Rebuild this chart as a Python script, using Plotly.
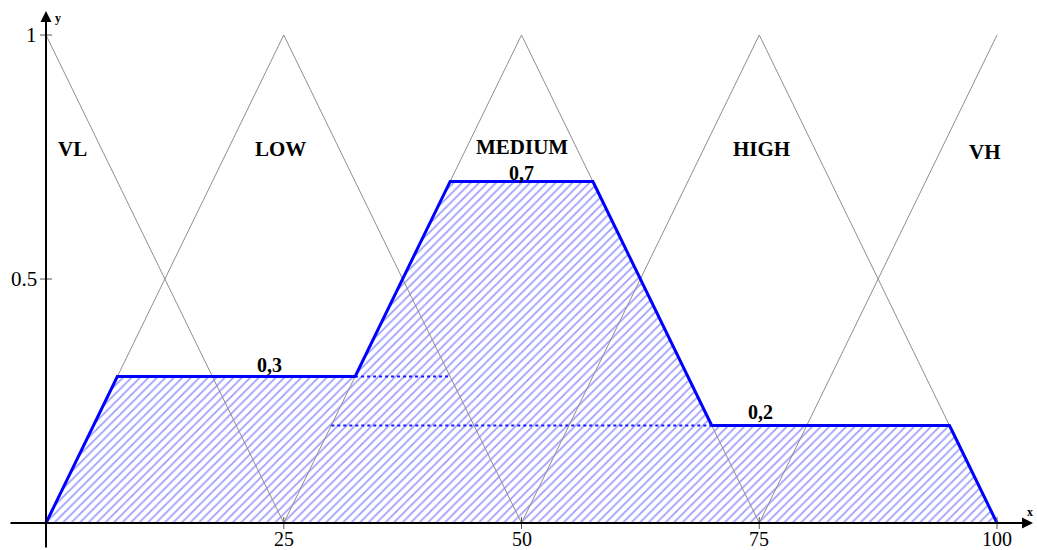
import numpy as np
import plotly.graph_objects as go

# Fuzzy sets on the universe 0..100 (triangular membership functions)
set_names = ["VL", "LOW", "MEDIUM", "HIGH", "VH"]
set_left = [-25, 0, 25, 50, 75]
set_peak = [0, 25, 50, 75, 100]
set_right = [25, 50, 75, 100, 125]
# Firing strengths (clip levels) of each set
clip_levels = [0.0, 0.3, 0.7, 0.2, 0.0]
clip_labels = ["", "0,3", "0,7", "0,2", ""]
# Dotted guide lines: level, start x, end x
guide_level = [0.3, 0.2]
guide_from = [32.5, 30.0]
guide_to = [42.5, 70.0]
# Axis ticks
x_ticks = [25, 50, 75, 100]
y_ticks = [0.5, 1]
y_tick_text = ["0.5", "1"]

# Pixel geometry of the drawing (origin at 46,523; x 9.51 px/unit; y 488 px/unit)
W, H = 1037, 550
X0, Y0, SX, SY = 46.0, 523.0, 9.51, 488.0
x_range = [-X0 / SX, (W - X0) / SX]
y_range = [-(H - Y0) / SY, Y0 / SY]


def tri(x, a, b, c):
    up = (x - a) / (b - a)
    down = (c - x) / (c - b)
    return np.clip(np.minimum(up, down), 0, 1)


fig = go.Figure()

# Aggregated output: max over sets of min(membership, clip level)
xg = np.arange(0, 100.0001, 0.25)
agg = np.zeros_like(xg)
for (a, b, c), lvl in zip(zip(set_left, set_peak, set_right), clip_levels):
    agg = np.maximum(agg, np.minimum(tri(xg, a, b, c), lvl))

fig.add_trace(go.Scatter(
    x=np.concatenate([xg, [100, 0]]), y=np.concatenate([agg, [0, 0]]),
    mode="lines", fill="toself", line=dict(color="rgba(0,0,0,0)", width=0),
    fillcolor="rgba(0,0,0,0)",
    fillpattern=dict(shape="/", fgcolor="#3c3cff", bgcolor="rgba(255,255,255,0)",
                     size=6, solidity=0.28),
    hoverinfo="skip", showlegend=False))

# Membership triangles, clipped to the universe 0..100
for a, b, c in zip(set_left, set_peak, set_right):
    px = sorted({min(max(v, 0), 100) for v in (a, b, c)})
    py = [float(tri(np.array([v]), a, b, c)[0]) for v in px]
    fig.add_trace(go.Scatter(x=px, y=py, mode="lines",
                             line=dict(color="#8f8f8f", width=1),
                             hoverinfo="skip", showlegend=False))

# Dotted guides
for lvl, x1, x2 in zip(guide_level, guide_from, guide_to):
    fig.add_trace(go.Scatter(x=[x1, x2], y=[lvl, lvl], mode="lines",
                             line=dict(color="#1a1aff", width=2, dash="dot"),
                             hoverinfo="skip", showlegend=False))

# Outline of the aggregated set
fig.add_trace(go.Scatter(x=xg, y=agg, mode="lines",
                         line=dict(color="#0000ff", width=3),
                         hoverinfo="skip", showlegend=False))

annotations = []
serif = "Liberation Serif, Times New Roman, serif"

# Axes with arrowheads
annotations.append(dict(x=(1033 - X0) / SX, y=0, ax=(9 - X0) / SX, ay=0,
                        axref="x", ayref="y", xref="x", yref="y", showarrow=True,
                        arrowhead=2, arrowsize=1.1, arrowwidth=2, arrowcolor="black", text=""))
annotations.append(dict(x=0, y=(Y0 - 11) / SY, ax=0, ay=(Y0 - 549) / SY,
                        axref="x", ayref="y", xref="x", yref="y", showarrow=True,
                        arrowhead=2, arrowsize=1.1, arrowwidth=2, arrowcolor="black", text=""))

shapes = []
for t in x_ticks:
    shapes.append(dict(type="line", x0=t, x1=t, y0=-6 / SY, y1=6 / SY,
                       line=dict(color="#555", width=1)))
    annotations.append(dict(x=t, y=-16 / SY, text=str(t), showarrow=False,
                            yanchor="middle", font=dict(family=serif, size=20, color="black")))
for t, lab in zip(y_ticks, y_tick_text):
    shapes.append(dict(type="line", x0=-6 / SX, x1=6 / SX, y0=t, y1=t,
                       line=dict(color="#555", width=1)))
    annotations.append(dict(x=-7 / SX, y=t, text=lab, showarrow=False,
                            xanchor="right", font=dict(family=serif, size=21, color="black")))

annotations.append(dict(x=(1030 - X0) / SX, y=(Y0 - 512) / SY, text="<b>x</b>",
                        showarrow=False, font=dict(family=serif, size=12, color="black")))
annotations.append(dict(x=(58 - X0) / SX, y=(Y0 - 18) / SY, text="<b>y</b>",
                        showarrow=False, font=dict(family=serif, size=12, color="black")))

# Set names and clip level labels
name_pos_x = [2.8, 24.7, 50.0, 75.2, 98.7]
name_pos_y = [0.766, 0.766, 0.770, 0.766, 0.760]
for name, px, py in zip(set_names, name_pos_x, name_pos_y):
    annotations.append(dict(x=px, y=py, text=f"<b>{name}</b>", showarrow=False,
                            font=dict(family=serif, size=21, color="black")))
label_pos_x = [None, 23.5, 50.0, 75.1, None]
label_offset = [0, 0.024, 0.017, 0.027, 0]
for lab, px, lvl, off in zip(clip_labels, label_pos_x, clip_levels, label_offset):
    if lab:
        annotations.append(dict(x=px, y=lvl + off, text=f"<b>{lab}</b>", showarrow=False,
                                font=dict(family=serif, size=20, color="black")))

fig.update_layout(
    width=W, height=H,
    margin=dict(l=0, r=0, t=0, b=0),
    paper_bgcolor="white", plot_bgcolor="white",
    xaxis=dict(range=x_range, visible=False, fixedrange=True),
    yaxis=dict(range=y_range, visible=False, fixedrange=True),
    shapes=shapes, annotations=annotations, showlegend=False,
)

fig.write_html("out.html")
